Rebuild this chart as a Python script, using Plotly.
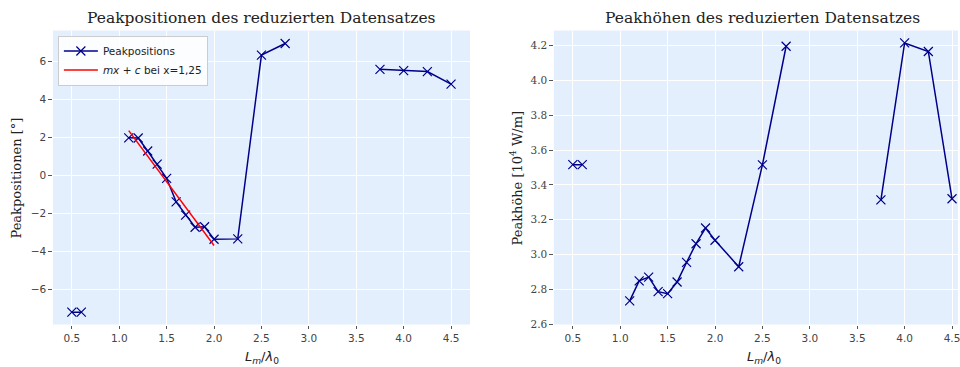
import plotly.graph_objects as go

# ---- data ----
L_ratio = [0.5, 0.6, 1.0, 1.1, 1.2, 1.3, 1.4, 1.5, 1.6, 1.7, 1.8, 1.9, 2.0, 2.25, 2.5, 2.75, 3.0, 3.75, 4.0, 4.25, 4.5]
peak_pos = [-7.2, -7.2, None, 1.98, 1.97, 1.29, 0.60, -0.15, -1.39, -2.09, -2.73, -2.70, -3.36, -3.34, 6.34, 6.95, None, 5.59, 5.52, 5.47, 4.81]
peak_height = [3.516, 3.516, None, 2.734, 2.849, 2.870, 2.787, 2.775, 2.842, 2.955, 3.062, 3.152, 3.082, 2.930, 3.515, 4.196, None, 3.314, 4.215, 4.166, 3.320]
fit_x = [1.1, 2.0]
fit_y = [2.36, -3.69]
x_ticks = [0.5, 1.0, 1.5, 2.0, 2.5, 3.0, 3.5, 4.0, 4.5]
y1_ticks = [-6, -4, -2, 0, 2, 4, 6]
y2_ticks = [2.6, 2.8, 3.0, 3.2, 3.4, 3.6, 3.8, 4.0, 4.2]

W, H = 960, 367
BG = "rgb(228,239,253)"
LINE = "#00008b"
SANS = "DejaVu Sans"
SERIF = "DejaVu Serif"
TICKC = "#444444"

fig = go.Figure()

marker = dict(symbol="x-thin", size=9, color=LINE, line=dict(color=LINE, width=1.2))

fig.add_trace(go.Scatter(x=L_ratio, y=peak_pos, mode="lines+markers", name="Peakpositions",
                         line=dict(color=LINE, width=1.5), marker=marker,
                         connectgaps=False, xaxis="x", yaxis="y"))
fig.add_trace(go.Scatter(x=fit_x, y=fit_y, mode="lines", name="<i>mx</i> + <i>c</i> bei x=1,25",
                         line=dict(color="red", width=1.5), xaxis="x", yaxis="y"))
fig.add_trace(go.Scatter(x=L_ratio, y=peak_height, mode="lines+markers", showlegend=False,
                         line=dict(color=LINE, width=1.5), marker=marker,
                         connectgaps=False, xaxis="x2", yaxis="y2"))

def px_x(p):
    return p / W

def px_y(p):
    return 1 - p / H

axis_common = dict(showgrid=True, gridcolor="white", gridwidth=1, zeroline=False,
                   ticks="outside", ticklen=3.5, tickwidth=0.8, tickcolor="#555555",
                   showline=False, ticklabeloverflow="allow")

fig.update_layout(
    width=W, height=H,
    margin=dict(l=0, r=0, t=0, b=0),
    paper_bgcolor="white",
    plot_bgcolor=BG,
    xaxis=dict(domain=[px_x(53), px_x(471)], range=[0.3, 4.7], tickvals=x_ticks,
               ticktext=[f"{v:.1f}" for v in x_ticks],
               tickfont=dict(family=SANS, size=10.5, color=TICKC), anchor="y", **axis_common),
    yaxis=dict(domain=[px_y(329), px_y(31)], range=[-7.85, 7.63], tickvals=y1_ticks,
               ticktext=[("\u2212" + str(abs(v))) if v < 0 else str(v) for v in y1_ticks],
               tickfont=dict(family=SANS, size=10.5, color=TICKC), anchor="x", **axis_common),
    xaxis2=dict(domain=[px_x(555), 1.0], range=[0.3, 4.563], tickvals=x_ticks,
                ticktext=[f"{v:.1f}" for v in x_ticks],
                tickfont=dict(family=SANS, size=10.5, color=TICKC), anchor="y2", **axis_common),
    yaxis2=dict(domain=[px_y(329), px_y(31)], range=[2.598, 4.286], tickvals=y2_ticks,
                ticktext=[f"{v:.1f}" for v in y2_ticks],
                tickfont=dict(family=SERIF, size=10.5, color=TICKC), anchor="x2", **axis_common),
    legend=dict(x=px_x(58), y=px_y(36), xanchor="left", yanchor="top",
                bgcolor="rgba(255,255,255,0.85)", bordercolor="#cccccc", borderwidth=1,
                font=dict(family=SANS, size=10.5, color="#222222"),
                tracegroupgap=0, itemwidth=34),
    showlegend=True,
)

ann = [
    dict(text="Peakpositionen des reduzierten Datensatzes", x=px_x(262), y=px_y(18),
         font=dict(family=SERIF, size=15.5, color="#222222")),
    dict(text="Peakh\u00f6hen des reduzierten Datensatzes", x=px_x(764), y=px_y(18),
         font=dict(family=SERIF, size=15.5, color="#222222")),
    dict(text="Peakpositionen [\u00b0]", x=px_x(17), y=px_y(180), textangle=-90,
         font=dict(family=SERIF, size=13, color="#222222")),
    dict(text="Peakh\u00f6he [10<sup>4</sup> W/m]", x=px_x(517), y=px_y(180), textangle=-90,
         font=dict(family=SERIF, size=13, color="#222222")),
    dict(text="<i>L</i><sub><i>m</i></sub>/<i>\u03bb</i><sub>0</sub>", x=px_x(263), y=px_y(362),
         font=dict(family=SANS, size=13, color="#222222")),
    dict(text="<i>L</i><sub><i>m</i></sub>/<i>\u03bb</i><sub>0</sub>", x=px_x(766), y=px_y(362),
         font=dict(family=SANS, size=13, color="#222222")),
]
for a in ann:
    fig.add_annotation(xref="paper", yref="paper", xanchor="center", yanchor="middle",
                       showarrow=False, **a)

fig.write_html("out.html")
